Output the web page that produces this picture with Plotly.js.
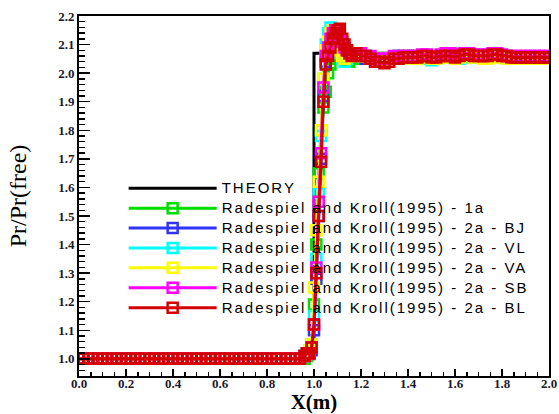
<!DOCTYPE html>
<html>
<head>
<meta charset="utf-8">
<script src="https://cdn.plot.ly/plotly-3.0.1.min.js"></script>
<style>
html,body{margin:0;padding:0;background:#fff;}
#chart{width:559px;height:414px;}
.legendtext{letter-spacing:2px;font-size:15px !important;}
</style>
</head>
<body>
<div id="chart"></div>
<script>
// ---- data ----
const seriesNames = [
  "THEORY",
  "Radespiel and Kroll(1995) - 1a",
  "Radespiel and Kroll(1995) - 2a - BJ",
  "Radespiel and Kroll(1995) - 2a - VL",
  "Radespiel and Kroll(1995) - 2a - VA",
  "Radespiel and Kroll(1995) - 2a - SB",
  "Radespiel and Kroll(1995) - 2a - BL"
];

const theoryX = [0.0, 1.0, 1.0, 2.0];
const theoryY = [1.0, 1.0, 2.07, 2.07];

// upstream region (shared grid)
const xUpstream = [0.00,0.02,0.04,0.06,0.08,0.10,0.12,0.14,0.16,0.18,0.20,0.22,0.24,0.26,0.28,0.30,
  0.32,0.34,0.36,0.38,0.40,0.42,0.44,0.46,0.48,0.50,0.52,0.54,0.56,0.58,0.60,0.62,0.64,0.66,0.68,0.70,
  0.72,0.74,0.76,0.78,0.80,0.82,0.84,0.86,0.88,0.90,0.92,0.94];
const yUpstream = [1.0,1.0,1.0,1.0,1.0,1.0,1.0,1.0,1.0,1.0,1.0,1.0,1.0,1.0,1.0,1.0,
  1.0,1.0,1.0,1.0,1.0,1.0,1.0,1.0,1.0,1.0,1.0,1.0,1.0,1.0,1.0,1.0,1.0,1.0,1.0,1.0,
  1.0,1.0,1.0,1.0,1.0,1.0,1.0,1.0,1.0,1.0,1.0,1.0];

// shock region grid
const xShock = [0.96,0.97,0.98,0.99,1.00,1.01,1.02,1.03,1.04,1.05,1.06,1.07,1.08,1.09,1.10,1.11,1.12,
  1.13,1.14,1.15,1.16,1.18,1.20,1.22,1.24,1.26,1.28,1.30,1.32,1.34,1.36,1.38,1.40];
const shock1a = [1.00,1.01,1.02,1.05,1.19,1.40,1.65,1.80,1.88,1.935,2.00,2.03,2.05,2.06,2.07,2.08,2.07,
  2.05,2.04,2.04,2.05,2.05,2.06,2.06,2.05,2.05,2.05,2.05,2.05,2.05,2.06,2.06,2.06];
const shockBJ = [1.01,1.02,1.02,1.03,1.10,1.28,1.50,1.70,1.92,2.04,2.08,2.11,2.13,2.15,2.14,2.12,2.10,
  2.08,2.07,2.06,2.06,2.06,2.06,2.05,2.05,2.04,2.04,2.04,2.05,2.05,2.05,2.06,2.06];
const shockVL = [1.01,1.02,1.03,1.04,1.15,1.35,1.58,1.78,1.98,2.10,2.14,2.16,2.15,2.12,2.09,2.07,2.05,
  2.04,2.05,2.06,2.07,2.07,2.06,2.06,2.05,2.05,2.05,2.04,2.05,2.05,2.06,2.06,2.06];
const shockVA = [1.01,1.02,1.03,1.05,1.25,1.45,1.62,1.80,1.98,2.08,2.11,2.14,2.15,2.13,2.10,2.08,2.06,
  2.05,2.06,2.06,2.07,2.06,2.06,2.06,2.05,2.05,2.04,2.04,2.05,2.05,2.05,2.06,2.06];
const shockSB = [1.01,1.02,1.02,1.04,1.12,1.32,1.55,1.72,1.95,2.06,2.09,2.12,2.14,2.15,2.15,2.13,2.11,
  2.09,2.08,2.07,2.07,2.07,2.07,2.06,2.06,2.05,2.05,2.05,2.05,2.06,2.06,2.06,2.06];
const shockBL = [1.01,1.02,1.02,1.04,1.12,1.30,1.50,1.69,1.90,2.03,2.06,2.09,2.12,2.14,2.15,2.155,2.12,
  2.10,2.08,2.07,2.06,2.07,2.06,2.06,2.05,2.04,2.04,2.035,2.04,2.05,2.05,2.055,2.055];

// downstream region grid
const xTail = [1.42,1.44,1.46,1.48,1.50,1.52,1.54,1.56,1.58,1.60,1.62,1.64,1.66,1.68,1.70,1.72,1.74,
  1.76,1.78,1.80,1.82,1.84,1.86,1.88,1.90,1.92,1.94,1.96,1.98,2.00];
const tail1a = [2.06,2.06,2.06,2.06,2.055,2.055,2.06,2.06,2.06,2.06,2.06,2.06,2.06,2.06,2.06,2.055,2.06,
  2.06,2.06,2.06,2.06,2.055,2.055,2.055,2.055,2.055,2.055,2.055,2.055,2.055];
const tailBJ = [2.055,2.055,2.06,2.055,2.05,2.055,2.06,2.06,2.06,2.055,2.055,2.06,2.06,2.06,2.055,2.055,2.06,
  2.06,2.06,2.06,2.055,2.055,2.055,2.055,2.055,2.055,2.055,2.055,2.055,2.055];
const tailVL = [2.05,2.05,2.055,2.05,2.045,2.05,2.055,2.06,2.06,2.055,2.05,2.055,2.06,2.06,2.055,2.05,2.055,
  2.06,2.06,2.055,2.05,2.05,2.05,2.05,2.05,2.05,2.05,2.05,2.05,2.05];
const tailVA = [2.05,2.05,2.055,2.055,2.05,2.05,2.055,2.055,2.055,2.05,2.055,2.06,2.06,2.055,2.055,2.05,2.05,
  2.055,2.06,2.055,2.05,2.05,2.05,2.05,2.05,2.05,2.05,2.05,2.05,2.05];
const tailSB = [2.06,2.06,2.065,2.065,2.06,2.06,2.065,2.07,2.07,2.065,2.065,2.07,2.07,2.065,2.065,2.06,2.065,
  2.07,2.07,2.065,2.06,2.06,2.06,2.06,2.06,2.06,2.06,2.06,2.06,2.06];
const tailBL = [2.055,2.055,2.06,2.06,2.055,2.055,2.06,2.06,2.06,2.055,2.06,2.065,2.065,2.06,2.06,2.06,2.06,
  2.065,2.065,2.06,2.06,2.055,2.055,2.055,2.055,2.055,2.055,2.055,2.055,2.055];

const seriesColors = ["#000000","#00dd00","#3333ff","#00ffff","#ffff00","#ff00ff","#d40000"];

// ---- build traces ----
const cfd = [
  [shock1a, tail1a],
  [shockBJ, tailBJ],
  [shockVL, tailVL],
  [shockVA, tailVA],
  [shockSB, tailSB],
  [shockBL, tailBL]
];

const traces = [{
  type: "scatter", mode: "lines", name: seriesNames[0],
  x: theoryX, y: theoryY,
  line: {color: seriesColors[0], width: 3}
}];

cfd.forEach(function (s, i) {
  traces.push({
    type: "scatter", mode: "lines+markers", name: seriesNames[i + 1],
    x: xUpstream.concat(xShock, xTail),
    y: yUpstream.concat(s[0], s[1]),
    line: {color: seriesColors[i + 1], width: 3},
    marker: {symbol: "square-open", size: 10, color: seriesColors[i + 1],
             line: {width: 2.5, color: seriesColors[i + 1]}}
  });
});

const tickFont = {family: "Liberation Serif", size: 13, weight: "bold", color: "#1a1a2a"};

const layout = {
  width: 559, height: 414,
  margin: {l: 79, r: 10, t: 16, b: 38, pad: 0},
  paper_bgcolor: "#ffffff", plot_bgcolor: "#ffffff",
  showlegend: true,
  legend: {
    x: 0.095, y: 0.563, xanchor: "left", yanchor: "top",
    bgcolor: "rgba(0,0,0,0)", borderwidth: 0,
    font: {family: "Liberation Sans", size: 13, color: "#000"},
    itemwidth: 88, tracegroupgap: 0
  },
  xaxis: {
    range: [0, 2], tick0: 0, dtick: 0.2, tickformat: ".1f",
    ticks: "inside", ticklen: 7, tickwidth: 1.5, tickcolor: "#000",
    showline: true, linewidth: 2, linecolor: "#000", mirror: true,
    showgrid: false, zeroline: false, ticklabelstandoff: -6,
    minor: {dtick: 0.05, ticks: "inside", ticklen: 4, tickwidth: 1.5, tickcolor: "#000", showgrid: false},
    tickfont: tickFont,
    title: {text: "X(m)", font: {family: "Liberation Serif", size: 21, weight: "bold", color: "#000"}, standoff: 10}
  },
  yaxis: {
    range: [0.94, 2.2], tick0: 0, dtick: 0.1, tickformat: ".1f",
    ticks: "inside", ticklen: 11, tickwidth: 1.5, tickcolor: "#000",
    showline: true, linewidth: 2, linecolor: "#000", mirror: true,
    showgrid: false, zeroline: false,
    minor: {dtick: 0.02, ticks: "inside", ticklen: 6, tickwidth: 1.5, tickcolor: "#000", showgrid: false},
    tickfont: tickFont,
    title: {text: "Pr/Pr(free)", font: {family: "Liberation Serif", size: 24, color: "#000"}, standoff: 25}
  }
};

Plotly.newPlot("chart", traces, layout, {staticPlot: true, displayModeBar: false});
</script>
</body>
</html>
